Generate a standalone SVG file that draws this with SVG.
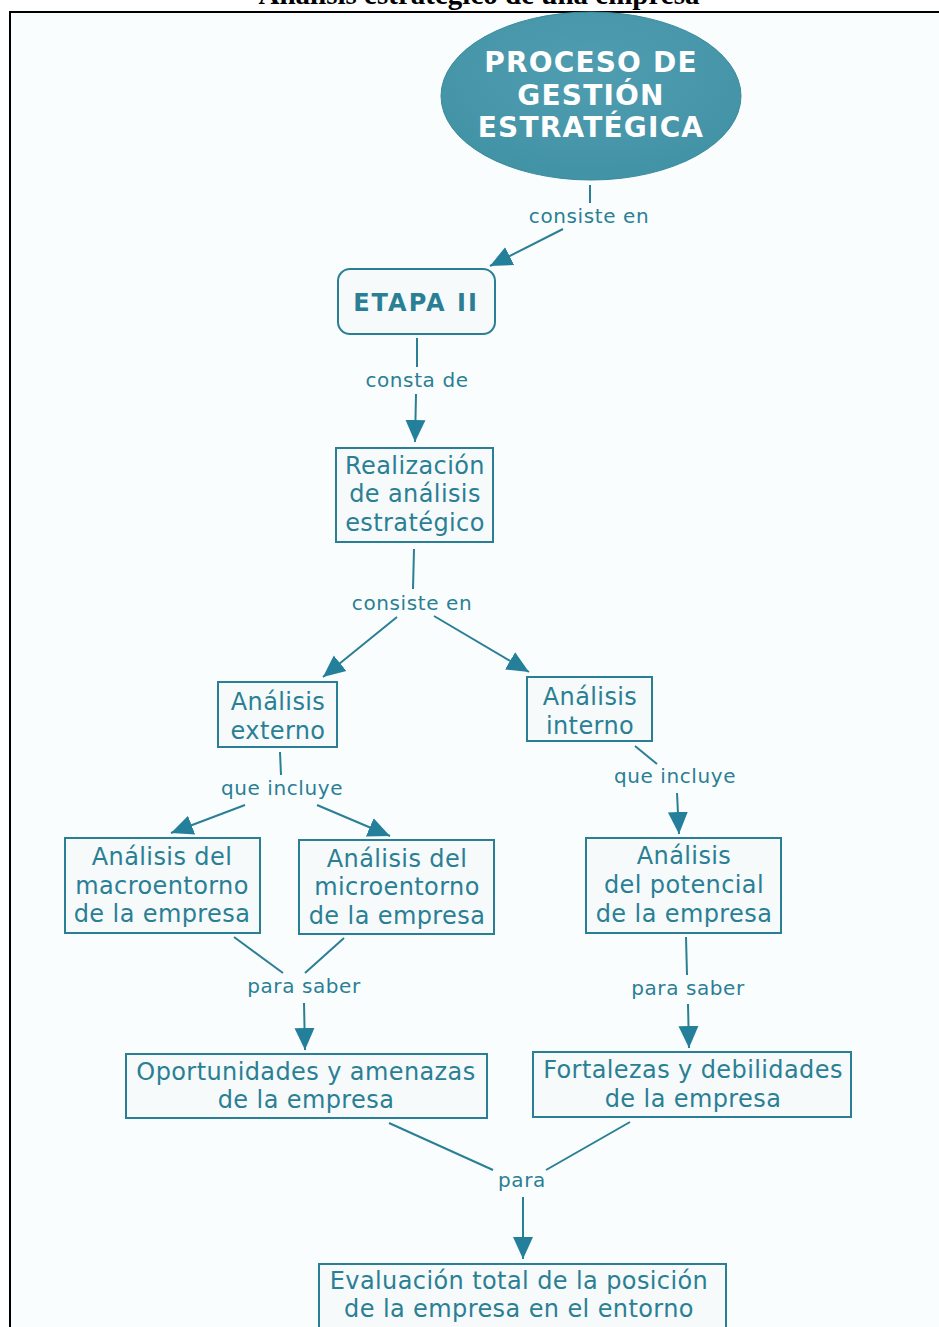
<svg xmlns="http://www.w3.org/2000/svg" width="939" height="1327" viewBox="0 0 939 1327">
<style>
.bx{fill:#f6fafb;stroke:#2b7f95;stroke-width:2}
.t{font-family:"DejaVu Sans",Verdana,sans-serif;font-size:24px;letter-spacing:0.4px;fill:#2a7f95;text-anchor:middle}
.l{font-family:"DejaVu Sans",Verdana,sans-serif;font-size:20px;letter-spacing:0.6px;fill:#2a7f95;text-anchor:middle}
.e{font-family:"DejaVu Sans",Verdana,sans-serif;font-size:28px;font-weight:bold;letter-spacing:1.2px;fill:#ffffff;text-anchor:middle}
.c{stroke:#2b7f95;stroke-width:2;fill:none}
.a{marker-end:url(#ah)}
</style>
<defs>
<marker id="ah" markerUnits="userSpaceOnUse" markerWidth="24" markerHeight="24" viewBox="0 0 24 24" refX="22" refY="12" orient="auto">
<path d="M0,2 L22,12 L0,22 Z" fill="#24809a"/>
</marker>
<radialGradient id="eg" cx="0.5" cy="0.35" r="0.6">
<stop offset="0" stop-color="#509db0"/>
<stop offset="1" stop-color="#4393a7"/>
</radialGradient>
</defs>
<rect x="0" y="0" width="939" height="1327" fill="#ffffff"/>
<rect x="10" y="12" width="929" height="1327" fill="#fafdfd"/>
<path d="M10,1327 V12 H939" fill="none" stroke="#000" stroke-width="2"/>
<text x="479" y="4" font-family="'Liberation Serif',serif" font-weight="bold" font-size="29" text-anchor="middle" fill="#000">Análisis estratégico de una empresa</text>

<g id="connectors">
<line class="c" x1="590" y1="185" x2="590" y2="203"/>
<line class="c a" x1="563" y1="229" x2="490" y2="266"/>
<line class="c" x1="417" y1="338" x2="417" y2="367"/>
<line class="c a" x1="416" y1="394" x2="415" y2="442"/>
<line class="c" x1="414" y1="549" x2="413" y2="589"/>
<line class="c a" x1="397" y1="617" x2="323" y2="677"/>
<line class="c a" x1="434" y1="616" x2="529" y2="672"/>
<line class="c" x1="280" y1="752" x2="281" y2="775"/>
<line class="c a" x1="245" y1="805" x2="171" y2="833"/>
<line class="c a" x1="317" y1="805" x2="390" y2="836"/>
<line class="c" x1="635" y1="746" x2="657" y2="764"/>
<line class="c a" x1="677" y1="793" x2="679" y2="834"/>
<line class="c" x1="234" y1="937" x2="283" y2="973"/>
<line class="c" x1="344" y1="938" x2="305" y2="973"/>
<line class="c a" x1="304" y1="1003" x2="305" y2="1050"/>
<line class="c" x1="686" y1="937" x2="687" y2="975"/>
<line class="c a" x1="688" y1="1004" x2="689" y2="1048"/>
<line class="c" x1="389" y1="1123" x2="493" y2="1170"/>
<line class="c" x1="630" y1="1122" x2="546" y2="1170"/>
<line class="c a" x1="523" y1="1197" x2="523" y2="1259"/>
<text class="l" x="589" y="223">consiste en</text>
<text class="l" x="417" y="387">consta de</text>
<text class="l" x="412" y="610">consiste en</text>
<text class="l" x="282" y="795">que incluye</text>
<text class="l" x="675" y="783">que incluye</text>
<text class="l" x="304" y="993">para saber</text>
<text class="l" x="688" y="995">para saber</text>
<text class="l" x="522" y="1187">para</text>
</g>

<g id="n-proceso">
<ellipse cx="591" cy="96" rx="150" ry="84" fill="url(#eg)" stroke="#3a8a9e" stroke-width="1"/>
<text class="e" x="591" y="72">PROCESO DE</text>
<text class="e" x="591" y="105">GESTIÓN</text>
<text class="e" x="591" y="137">ESTRATÉGICA</text>
</g>

<g id="n-etapa">
<rect class="bx" x="338" y="269" width="157" height="65" rx="12"/>
<text class="t" x="416" y="311" style="font-weight:bold;letter-spacing:2px">ETAPA II</text>
</g>

<g id="n-realizacion">
<rect class="bx" x="336" y="448" width="157" height="94"/>
<text class="t" x="415" y="474">Realización</text>
<text class="t" x="415" y="502">de análisis</text>
<text class="t" x="415" y="531">estratégico</text>
</g>

<g id="n-externo">
<rect class="bx" x="218" y="682" width="119" height="65"/>
<text class="t" x="278" y="710">Análisis</text>
<text class="t" x="278" y="739">externo</text>
</g>

<g id="n-interno">
<rect class="bx" x="527" y="677" width="125" height="64"/>
<text class="t" x="590" y="705">Análisis</text>
<text class="t" x="590" y="734">interno</text>
</g>

<g id="n-macro">
<rect class="bx" x="65" y="838" width="195" height="95"/>
<text class="t" x="162" y="865">Análisis del</text>
<text class="t" x="162" y="894">macroentorno</text>
<text class="t" x="162" y="922">de la empresa</text>
</g>

<g id="n-micro">
<rect class="bx" x="299" y="840" width="195" height="94"/>
<text class="t" x="397" y="867">Análisis del</text>
<text class="t" x="397" y="895">microentorno</text>
<text class="t" x="397" y="924">de la empresa</text>
</g>

<g id="n-potencial">
<rect class="bx" x="586" y="838" width="195" height="95"/>
<text class="t" x="684" y="864">Análisis</text>
<text class="t" x="684" y="893">del potencial</text>
<text class="t" x="684" y="922">de la empresa</text>
</g>

<g id="n-oportunidades">
<rect class="bx" x="126" y="1054" width="361" height="64"/>
<text class="t" x="306" y="1080">Oportunidades y amenazas</text>
<text class="t" x="306" y="1108">de la empresa</text>
</g>

<g id="n-fortalezas">
<rect class="bx" x="533" y="1052" width="318" height="65"/>
<text class="t" x="693" y="1078">Fortalezas y debilidades</text>
<text class="t" x="693" y="1107">de la empresa</text>
</g>

<g id="n-evaluacion">
<rect class="bx" x="319" y="1264" width="407" height="75"/>
<text class="t" x="519" y="1289">Evaluación total de la posición</text>
<text class="t" x="519" y="1317">de la empresa en el entorno</text>
</g>
</svg>
